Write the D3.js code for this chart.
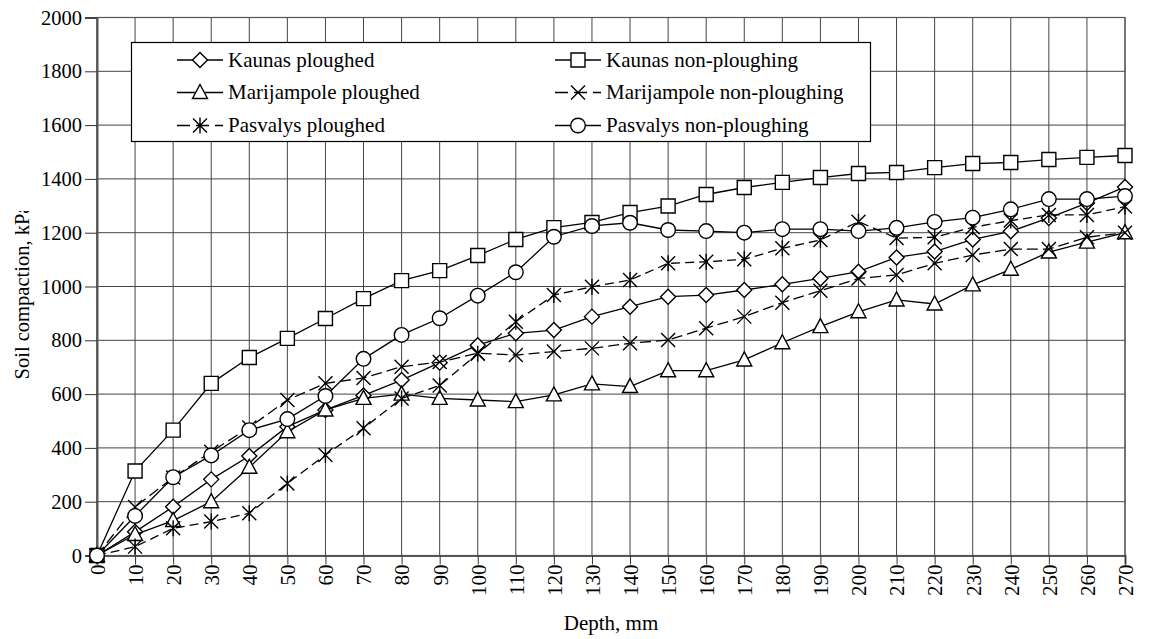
<!DOCTYPE html>
<html><head><meta charset="utf-8">
<script src="https://cdn.jsdelivr.net/npm/d3@7"></script>
<style>body{margin:0;background:#fff}svg{display:block}</style>
</head><body><svg id="c" width="1155" height="639"></svg>
<script>
const depth = [0,10,20,30,40,50,60,70,80,90,100,110,120,130,140,150,160,170,180,190,200,210,220,230,240,250,260,270];
const yTicks = [0,200,400,600,800,1000,1200,1400,1600,1800,2000];
const seriesNames = ["Kaunas ploughed","Kaunas non-ploughing","Marijampole ploughed","Marijampole non-ploughing","Pasvalys ploughed","Pasvalys non-ploughing"];
const kaunasPloughed      = [0,88,181,283,370,479,541,595,652,717,782,826,838,888,925,962,968,987,1008,1030,1055,1108,1130,1175,1205,1255,1310,1370];
const kaunasNonPloughing  = [0,314,466,640,736,807,881,955,1022,1059,1115,1175,1219,1238,1275,1299,1342,1368,1387,1405,1420,1424,1442,1457,1461,1472,1480,1487];
const marijPloughed       = [0,78,130,200,328,460,541,584,600,584,578,572,597,638,628,687,687,727,791,851,906,950,935,1006,1064,1128,1165,1200];
const marijNonPloughing   = [0,180,290,386,476,578,640,660,702,719,752,745,758,770,789,801,845,888,940,984,1030,1043,1086,1117,1139,1139,1183,1200];
const pasvalysPloughed    = [0,33,101,126,157,268,374,473,584,632,750,869,968,999,1024,1086,1092,1101,1142,1173,1241,1180,1183,1220,1245,1266,1266,1297];
const pasvalysNonPloughing= [0,147,291,372,466,507,593,731,820,882,966,1053,1185,1225,1237,1210,1206,1200,1213,1213,1206,1218,1240,1256,1287,1325,1325,1336];

const seriesValues = [kaunasPloughed,kaunasNonPloughing,marijPloughed,marijNonPloughing,pasvalysPloughed,pasvalysNonPloughing];
const markerTypes = ["diamond","square","triangle","cross","asterisk","circle"];
const dashTypes = [null,null,null,"11,5","9,5",null];

const FONT = "'Liberation Serif','Times New Roman',serif";
const svg = d3.select("#c");
const L=97,R=1125,T=17.5,B=555.5;
const x = d3.scaleLinear().domain([0,270]).range([L,R]);
const y = d3.scaleLinear().domain([0,2000]).range([B,T]);

// grid
const g = svg.append("g");
g.selectAll(".vg").data(depth).join("line")
  .attr("x1",d=>x(d)).attr("x2",d=>x(d)).attr("y1",T).attr("y2",B)
  .attr("stroke","#444").attr("stroke-width",1);
g.selectAll(".hg").data(yTicks).join("line")
  .attr("x1",L).attr("x2",R).attr("y1",d=>y(d)).attr("y2",d=>y(d))
  .attr("stroke","#444").attr("stroke-width",1);
svg.append("rect").attr("x",L).attr("y",T).attr("width",R-L).attr("height",B-T)
  .attr("fill","none").attr("stroke","#555").attr("stroke-width",1.2);

// axes
const ya = svg.append("g").attr("transform",`translate(${L},0)`)
  .call(d3.axisLeft(y).tickValues(yTicks).tickSize(12).tickPadding(3).tickFormat(d3.format("d")));
ya.select(".domain").attr("stroke","#555").attr("stroke-width",2);
ya.selectAll(".tick line").attr("stroke","#333");
ya.selectAll("text").attr("font-family",FONT).attr("font-size",20.5).attr("fill","#000");

const xa = svg.append("g").attr("transform",`translate(0,${B})`)
  .call(d3.axisBottom(x).tickValues(depth).tickSize(9).tickFormat(d=>d));
xa.select(".domain").attr("stroke","#555").attr("stroke-width",2);
xa.selectAll(".tick line").attr("stroke","#333");
xa.selectAll("text").attr("font-family",FONT).attr("font-size",21).attr("fill","#000")
  .attr("transform","rotate(-90)").attr("x",-9).attr("y",0).attr("dy","0.35em")
  .style("text-anchor","end");

// axis titles
svg.append("text").attr("x",(L+R)/2).attr("y",630).attr("text-anchor","middle")
  .attr("font-family",FONT).attr("font-size",21).text("Depth, mm");
svg.append("clipPath").attr("id","ytclip").append("rect").attr("x",0).attr("y",211).attr("width",60).attr("height",300);
svg.append("g").attr("clip-path","url(#ytclip)").append("text")
  .attr("transform","translate(29,292) rotate(-90)").attr("text-anchor","middle")
  .attr("font-family",FONT).attr("font-size",20.5).text("Soil compaction, kPa");

// markers
function markerPath(type){
  const p = d3.path();
  if(type==="diamond"){p.moveTo(0,-7.5);p.lineTo(7.5,0);p.lineTo(0,7.5);p.lineTo(-7.5,0);p.closePath();}
  else if(type==="square"){p.rect(-7,-7,14,14);}
  else if(type==="triangle"){p.moveTo(0,-8);p.lineTo(7.5,6);p.lineTo(-7.5,6);p.closePath();}
  else if(type==="circle"){p.arc(0,0,7.3,0,2*Math.PI);}
  else if(type==="cross"){p.moveTo(-7,-7);p.lineTo(7,7);p.moveTo(7,-7);p.lineTo(-7,7);}
  else if(type==="asterisk"){p.moveTo(-7,-7);p.lineTo(7,7);p.moveTo(7,-7);p.lineTo(-7,7);p.moveTo(0,-8);p.lineTo(0,8);}
  return p.toString();
}
function drawMarker(sel,type){
  const filled = !(type==="cross"||type==="asterisk");
  sel.append("path").attr("d",markerPath(type))
    .attr("fill",filled?"#fff":"none").attr("stroke","#000").attr("stroke-width",1.4);
}

const line = d3.line().x((d,i)=>x(depth[i])).y(d=>y(d));
seriesValues.forEach((vals,si)=>{
  const sg = svg.append("g");
  sg.append("path").datum(vals).attr("d",line).attr("fill","none")
    .attr("stroke","#000").attr("stroke-width",1.3)
    .attr("stroke-dasharray",dashTypes[si]);
  vals.forEach((v,i)=>{
    const mg = sg.append("g").attr("transform",`translate(${x(depth[i])},${y(v)})`);
    drawMarker(mg,markerTypes[si]);
  });
});

// legend
const lg = svg.append("g");
lg.append("rect").attr("x",131.5).attr("y",42.5).attr("width",739).attr("height",99)
  .attr("fill","#fff").attr("stroke","#000").attr("stroke-width",1.2);
const colX=[177,555], rowY=[60,92.5,125.5];
seriesNames.forEach((name,si)=>{
  const cx=colX[si%2], cy=rowY[Math.floor(si/2)];
  const e = lg.append("g").attr("transform",`translate(${cx},${cy})`);
  e.append("line").attr("x1",0).attr("x2",46).attr("y1",0).attr("y2",0)
    .attr("stroke","#000").attr("stroke-width",1.3).attr("stroke-dasharray",dashTypes[si]?"13,6":null);
  const m = e.append("g").attr("transform","translate(23,0)");
  drawMarker(m,markerTypes[si]);
  e.append("text").attr("x",51).attr("y",0).attr("dy","0.33em")
    .attr("font-family",FONT).attr("font-size",21).text(name);
});
</script></body></html>
